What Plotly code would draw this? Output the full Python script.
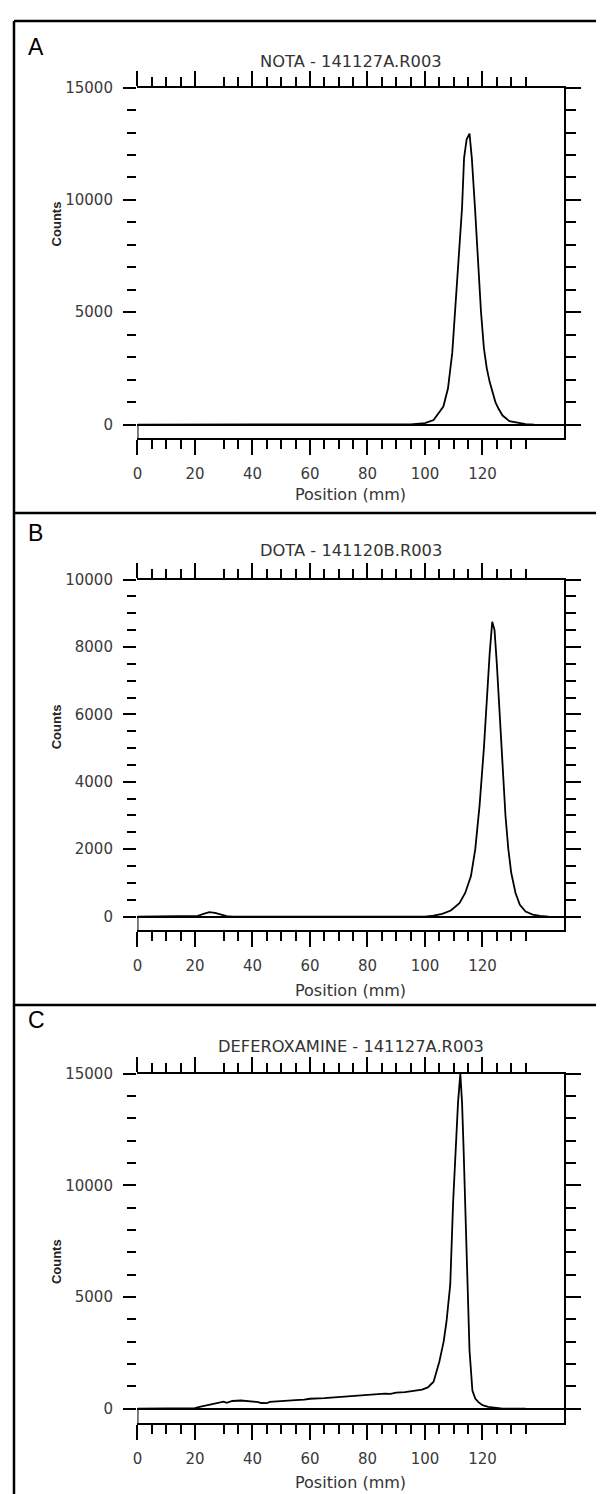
import plotly.graph_objects as go

# ---------------- data ----------------
nota_pos = [0, 20, 40, 60, 80, 90, 95, 100, 103, 106.4, 108, 109.5, 110.5, 111.5, 112.9, 113.6, 114.5,
            115.5, 116.3, 117.4, 118.5, 119.5, 120.5, 121.5, 122.5, 123.5, 124.5, 125.6, 127, 129.4,
            132.8, 135, 138]
nota_counts = [0, 0, 0, 0, 0, 0, 10, 60, 200, 800, 1600, 3200, 5000, 7000, 9650, 11860, 12700,
               12950, 11860, 9650, 7000, 5000, 3400, 2500, 1900, 1400, 1000, 700, 400, 150,
               60, 20, 0]

dota_pos = [0, 10, 20, 21, 23, 25, 27, 29, 31, 33, 50, 70, 90, 100, 103, 106, 109, 112, 114, 116,
            117.5, 119, 120.5, 121.5, 122.5, 123.4, 124.2, 125, 126, 127, 128, 129, 130, 131.5,
            133, 135, 137.5, 140, 143]
dota_counts = [0, 0, 0, 20, 80, 130, 110, 50, 10, 0, 0, 0, 0, 0, 30, 80, 180, 400, 700, 1200,
               2000, 3300, 5000, 6500, 7800, 8750, 8500, 7500, 6000, 4400, 3000, 2000, 1300, 700,
               350, 150, 60, 20, 0]

dfo_pos = [0, 10, 18, 20, 22, 24, 27, 30, 31, 33, 36, 39, 42, 43, 44, 45, 46, 50, 55, 58, 60, 65, 70,
           73, 76, 80, 83, 86, 88, 90, 93, 96, 99, 101, 103, 105, 106.5, 107.5, 108.8, 109.8,
           110.7, 111.5, 112.3, 112.9, 113.4, 114, 115, 115.5, 116.5, 117.5, 118.5, 120, 122,
           125, 127, 135]
dfo_counts = [0, 0, 0, 20, 90, 150, 250, 310, 260, 340, 360, 330, 290, 250, 260, 240, 300, 350, 380,
              400, 440, 470, 520, 550, 580, 600, 630, 670, 660, 710, 740, 790, 850, 950, 1200, 2100,
              3000, 3900, 5560, 9257, 11790, 13700, 15000, 13700, 11790, 9257, 5560, 2600, 810,
              450, 300, 150, 75, 20, 0, 0]

titles = ["NOTA - 141127A.R003", "DOTA - 141120B.R003", "DEFEROXAMINE - 141127A.R003"]
letters = ["A", "B", "C"]

x_major = [0, 20, 40, 60, 80, 100, 120]
x_minor = [5, 10, 15, 30, 35, 45, 50, 55, 65, 70, 75, 85, 90, 95, 105, 110, 115, 125, 130, 135]
y_max = [15000, 10000, 15000]
y_major_step = [5000, 2000, 5000]
y_minor_step = [1000, 500, 1000]

series = [(nota_pos, nota_counts), (dota_pos, dota_counts), (dfo_pos, dfo_counts)]

# ---------------- layout geometry (page pixels) ----------------
W, H = 604, 1494
OFF = 8  # default body margin of the html page
X_LEFT, X_RIGHT = 133.5, 564
X_MAX = 148.5
panels = [  # top axis, zero line, box bottom, letter y, title y, counts y, xlabel y
    dict(top=79, zero=418, bot=432, letter=38, title=53, counts=216, xlab=488),
    dict(top=574, zero=913, bot=927, letter=527, title=545, counts=722, xlab=987),
    dict(top=1071, zero=1408, bot=1423, letter=1017, title=1044, counts=1260, xlab=1482),
]

def fx(px):
    return (px - OFF) / W

def fy(py):
    return 1 - (py - OFF) / H

TICKFONT = dict(family="DejaVu Sans", size=15, color="#3a3a3a")
fig = go.Figure()
layout = dict(width=W, height=H, margin=dict(l=0, r=0, t=0, b=0),
              paper_bgcolor="white", plot_bgcolor="white", showlegend=False)
shapes = []
annotations = []

for i, p in enumerate(panels):
    xid = "x" if i == 0 else f"x{i+1}"
    yl = f"y{2*i+1}" if i > 0 else "y"
    yr = f"y{2*i+2}"
    xkey = "xaxis" if i == 0 else f"xaxis{i+1}"
    ylkey = "yaxis" if i == 0 else f"yaxis{2*i+1}"
    yrkey = f"yaxis{2*i+2}"

    ymax = y_max[i]
    ymin = -(p["bot"] - p["zero"]) / (p["zero"] - p["top"]) * ymax
    ymaj = list(range(0, ymax + 1, y_major_step[i]))
    ymin_ticks = [v for v in range(0, ymax + 1, y_minor_step[i]) if v not in ymaj]

    xs, ys = series[i]
    fig.add_trace(go.Scatter(x=xs, y=ys, xaxis=xid, yaxis=yl, mode="lines",
                             line=dict(color="black", width=1.8), hoverinfo="skip"))
    fig.add_trace(go.Scatter(x=xs, y=ys, xaxis=xid, yaxis=yr, mode="lines",
                             line=dict(color="black", width=0), opacity=0, hoverinfo="skip"))

    layout[xkey] = dict(
        domain=[fx(X_LEFT), fx(X_RIGHT)], range=[0, X_MAX], anchor=yl,
        showline=True, linecolor="black", linewidth=2, mirror="ticks",
        ticks="outside", tickmode="array", tickvals=x_major,
        ticktext=[str(v) for v in x_major], ticklen=15, tickwidth=2, tickcolor="black",
        minor=dict(tickmode="array", tickvals=x_minor, ticks="outside", ticklen=9,
                   tickwidth=2, tickcolor="black", showgrid=False),
        showgrid=False, zeroline=False, tickfont=TICKFONT, ticklabelstandoff=6,
    )
    layout[ylkey] = dict(
        domain=[fy(p["bot"]), fy(p["top"])], range=[ymin, ymax], anchor=xid, side="left",
        showline=False, ticks="outside", tickmode="array", tickvals=ymaj,
        ticktext=[str(v) for v in ymaj], ticklen=13.5, tickwidth=2, tickcolor="black",
        minor=dict(tickmode="array", tickvals=ymin_ticks, ticks="outside", ticklen=9,
                   tickwidth=2, tickcolor="black", showgrid=False),
        showgrid=False, zeroline=True, zerolinecolor="black", zerolinewidth=2,
        tickfont=TICKFONT, ticklabelstandoff=7,
    )
    layout[yrkey] = dict(
        overlaying=yl, side="right", anchor=xid, range=[ymin, ymax],
        showline=True, linecolor="black", linewidth=2,
        ticks="outside", tickmode="array", tickvals=ymaj, ticklen=15, tickwidth=2,
        tickcolor="black", showticklabels=False,
        minor=dict(tickmode="array", tickvals=ymin_ticks, ticks="outside", ticklen=10,
                   tickwidth=2, tickcolor="black", showgrid=False),
        showgrid=False, zeroline=False,
    )
    # short left box edge below the zero line
    shapes.append(dict(type="line", xref=xid, yref=yl, x0=0, x1=0, y0=ymin, y1=0,
                       line=dict(color="black", width=2)))

    annotations.append(dict(text=letters[i], x=fx(21), y=fy(p["letter"]), xref="paper", yref="paper",
                            xanchor="left", yanchor="middle", showarrow=False,
                            font=dict(family="Liberation Sans", size=23, color="black")))
    annotations.append(dict(text=titles[i], x=fx((X_LEFT + X_RIGHT) / 2), y=fy(p["title"]),
                            xref="paper", yref="paper", xanchor="center", yanchor="middle",
                            showarrow=False,
                            font=dict(family="DejaVu Sans", size=16.3, color="#333333")))
    annotations.append(dict(text="<b>Counts</b>", x=fx(52), y=fy(p["counts"]), xref="paper",
                            yref="paper", xanchor="center", yanchor="middle", textangle=-90,
                            showarrow=False,
                            font=dict(family="Liberation Sans", size=13, color="#222222")))
    annotations.append(dict(text="Position (mm)", x=fx((X_LEFT + X_RIGHT) / 2), y=fy(p["xlab"]),
                            xref="paper", yref="paper", xanchor="center", yanchor="middle",
                            showarrow=False,
                            font=dict(family="DejaVu Sans", size=16, color="#333333")))

# outer frame and separators
frame_w = 2.5
shapes.append(dict(type="line", xref="paper", yref="paper", x0=fx(9), x1=fx(9), y0=fy(12), y1=0,
                   line=dict(color="black", width=frame_w)))
for sy in [12, 507, 1002]:
    shapes.append(dict(type="line", xref="paper", yref="paper", x0=fx(9), x1=1, y0=fy(sy), y1=fy(sy),
                       line=dict(color="black", width=frame_w)))

layout["shapes"] = shapes
layout["annotations"] = annotations
fig.update_layout(**layout)
fig.write_html("out.html")
